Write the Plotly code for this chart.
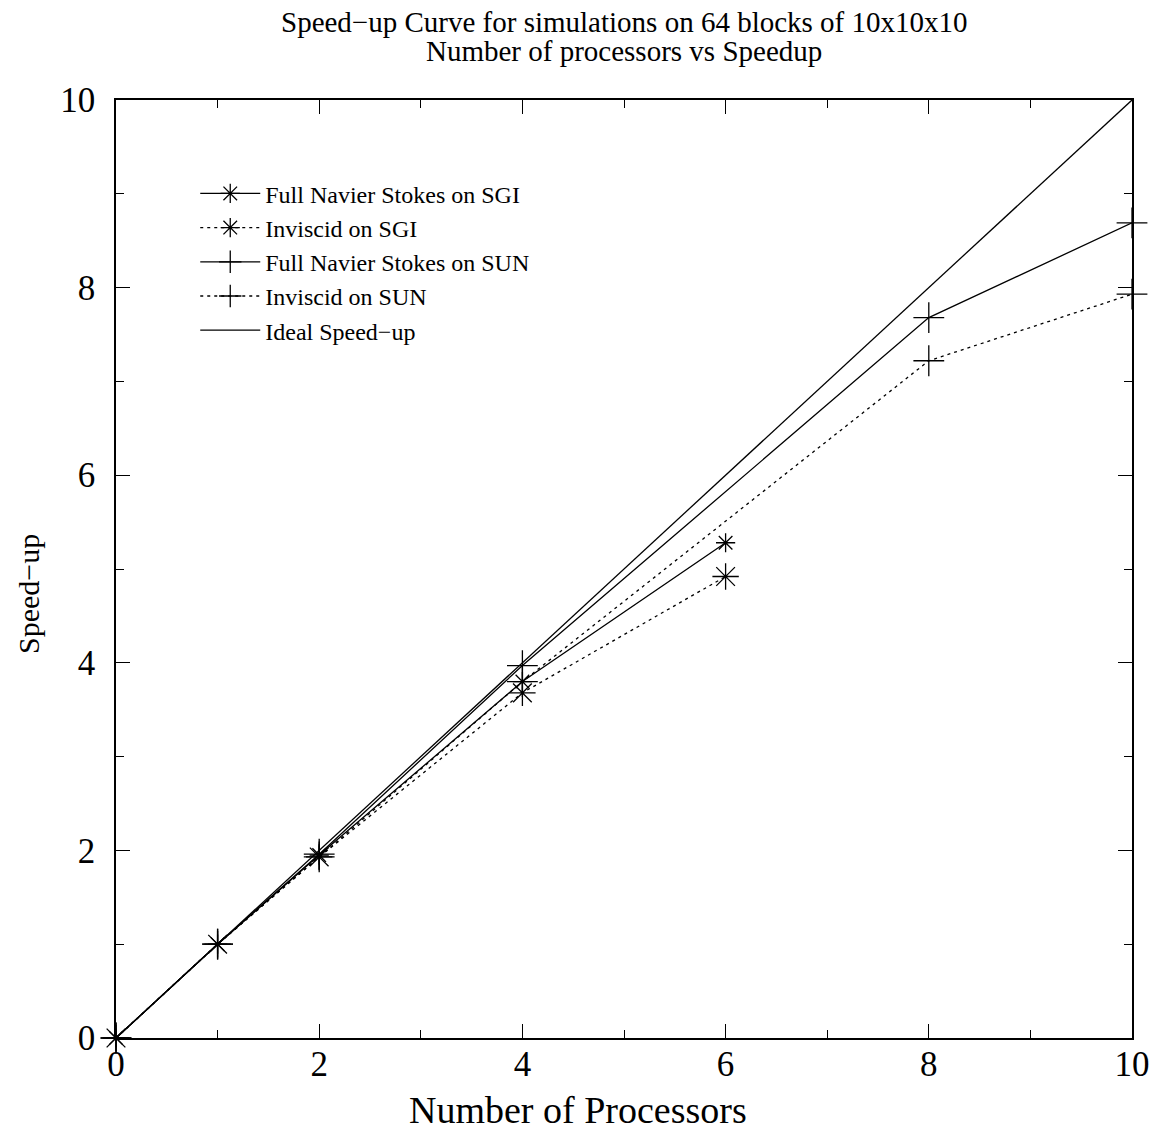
import plotly.graph_objects as go

ideal_x = [0, 10]
ideal_y = [0, 10]

sgi_x = [0, 1, 2, 4, 6]
sgi_full_y = [0, 1.0, 1.95, 3.80, 5.28]
sgi_inv_y = [0, 1.0, 1.93, 3.68, 4.92]

sun_x = [0, 1, 2, 4, 8, 10]
sun_full_y = [0, 1.0, 1.96, 3.97, 7.68, 8.69]
sun_inv_y = [0, 1.0, 1.93, 3.80, 7.22, 7.93]

names = ["Full Navier Stokes on SGI", "Inviscid on SGI",
         "Full Navier Stokes on SUN", "Inviscid on SUN", "Ideal Speed\u2212up"]

title_lines = ["Speed\u2212up Curve for simulations on 64 blocks of 10x10x10",
               "Number of processors vs Speedup"]
x_title = "Number of Processors"
y_title = "Speed\u2212up"

FONT = "Liberation Serif, Times New Roman, serif"
fig = go.Figure()

fig.add_trace(go.Scatter(x=sgi_x, y=sgi_full_y, name=names[0], mode="lines+markers", cliponaxis=False,
                         line=dict(color="black", width=1.3),
                         marker=dict(symbol="asterisk-open", size=16, color="black", line=dict(width=1.3, color="black"))))
fig.add_trace(go.Scatter(x=sgi_x, y=sgi_inv_y, name=names[1], mode="lines+markers", cliponaxis=False,
                         line=dict(color="black", width=1.3, dash="3px,4px"),
                         marker=dict(symbol="asterisk-open", size=22, color="black", line=dict(width=1.3, color="black"))))
fig.add_trace(go.Scatter(x=sun_x, y=sun_full_y, name=names[2], mode="lines+markers", cliponaxis=False,
                         line=dict(color="black", width=1.3),
                         marker=dict(symbol="cross-thin-open", size=22, color="black", line=dict(width=1.3, color="black"))))
fig.add_trace(go.Scatter(x=sun_x, y=sun_inv_y, name=names[3], mode="lines+markers", cliponaxis=False,
                         line=dict(color="black", width=1.3, dash="3px,4px"),
                         marker=dict(symbol="cross-thin-open", size=22, color="black", line=dict(width=1.3, color="black"))))
fig.add_trace(go.Scatter(x=ideal_x, y=ideal_y, name=names[4], mode="lines", cliponaxis=False,
                         line=dict(color="black", width=1.3)))

axis_common = dict(
    showgrid=False, zeroline=False, showline=True, linecolor="black", linewidth=1.5,
    mirror="ticks", ticks="inside", ticklen=14, tickcolor="black", tickwidth=1,
    range=[0, 10], dtick=2, tick0=0,
    tickfont=dict(family=FONT, size=35, color="black"),
    minor=dict(ticks="inside", ticklen=8, dtick=1, tickcolor="black", tickwidth=1),
)

fig.update_layout(
    width=1163, height=1145,
    margin=dict(l=116, r=31, t=100, b=107),
    paper_bgcolor="white", plot_bgcolor="white",
    font=dict(family=FONT, color="black"),
    xaxis=dict(axis_common, ticklabelstandoff=-6),
    yaxis=dict(axis_common, ticklabelstandoff=12),
    legend=dict(x=0.078, y=0.924, xanchor="left", yanchor="top", bgcolor="rgba(0,0,0,0)",
                font=dict(family=FONT, size=24, color="black"), itemwidth=60, tracegroupgap=0),
    showlegend=True,
)

for i, t in enumerate(title_lines):
    fig.add_annotation(text=t, xref="paper", yref="paper", x=0.5, y=1 + (78 - 29 * i) / 938,
                       xanchor="center", yanchor="middle", showarrow=False,
                       font=dict(family=FONT, size=29, color="black"))

fig.add_annotation(text=x_title, xref="paper", yref="paper", x=(578 - 116) / 1016, y=-72 / 938,
                   xanchor="center", yanchor="middle", showarrow=False,
                   font=dict(family=FONT, size=38, color="black"))
fig.add_annotation(text=y_title, xref="paper", yref="paper", x=-88 / 1016, y=(1038 - 594) / 938,
                   xanchor="center", yanchor="middle", showarrow=False, textangle=-90,
                   font=dict(family=FONT, size=30, color="black"))

fig.write_html("out.html")
